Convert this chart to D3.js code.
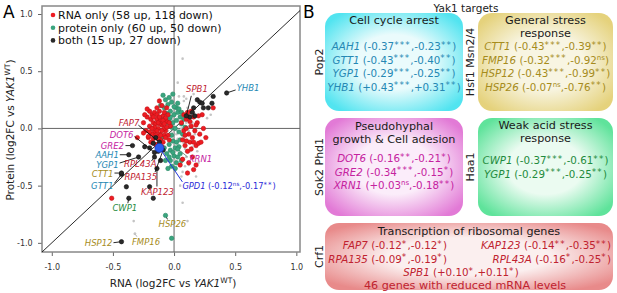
<!DOCTYPE html>
<html lang="en">
<head>
<meta charset="UTF-8">
<title>Yak1 targets</title>
<script src="https://d3js.org/d3.v7.min.js"></script>
<style>
  body { margin: 0; background: #fff; }
  svg { display: block; font-family: "DejaVu Sans", sans-serif; }
</style>
</head>
<body>
<svg width="617" height="293"></svg>
<script>
// ---- Panel A: [RNA log2FC, protein log2FC]
const grayPts = [
  [-0.12,0.10],[-0.08,0.05],[-0.05,-0.02],[-0.02,0.08],[0.00,0.02],[0.02,-0.05],[0.04,0.10],[0.06,0.00],
  [0.08,-0.08],[0.10,0.05],[0.12,-0.02],[0.03,-0.15],[-0.03,-0.12],[0.05,-0.22],[0.09,-0.18],[0.07,0.15],
  [0.02,0.20],[0.11,0.18],[0.13,0.12],[0.15,0.05],[0.14,-0.12],[0.01,-0.28],[0.06,-0.30],[-0.04,-0.20],
  [0.10,-0.25],[0.17,-0.05],[-0.10,-0.05],[-0.06,0.14],[0.04,0.28],[0.08,0.24],[0.18,0.10],[0.00,-0.36],
  [0.07,-0.38],[0.12,-0.32],[-0.02,0.25],[0.05,0.06],[0.03,-0.09],[-0.01,-0.04],[0.09,0.09],[0.11,-0.10],
  [0.07,0.61],[-0.33,-0.81],[0.07,-0.65],[0.11,-0.81],[0.16,0.30],[0.20,-0.30],[0.03,0.40],[0.18,-0.42],
  [0.05,-0.50],[0.27,0.09],[0.30,0.12],[0.12,0.02],[0.19,-0.20],[-0.32,-0.92],[0.08,0.28],[0.10,0.26],
  [0.06,-0.42],[0.09,-0.33],[0.13,-0.20],[0.15,-0.16],[0.01,-0.20],[0.08,-0.13],[-0.07,-0.09]
];
const redPts = [
  [-0.25,0.05],[-0.22,0.10],[-0.20,0.02],[-0.18,0.12],[-0.16,-0.03],[-0.14,0.08],[-0.12,0.15],[-0.10,0.03],
  [-0.08,-0.06],[-0.06,0.06],[-0.04,-0.10],[-0.21,-0.08],[-0.19,-0.12],[-0.15,-0.14],[-0.11,-0.10],[-0.09,0.11],
  [-0.13,0.00],[-0.17,0.05],[-0.23,-0.02],[-0.07,-0.02],[-0.05,0.12],[-0.14,0.18],[-0.10,0.20],[-0.06,0.18],
  [-0.12,-0.05],[-0.18,-0.05],[-0.08,0.14],[-0.16,0.14],[-0.20,0.15],[-0.03,0.02],[-0.11,0.07],[-0.15,0.04],
  [-0.19,0.08],[-0.24,0.12],[-0.09,-0.12],[-0.13,-0.09],[-0.07,0.09],[-0.05,-0.06],[-0.17,-0.09],[-0.10,-0.16],
  [-0.22,0.17],[-0.12,0.24],[-0.30,-0.08],[-0.25,-0.04],[-0.21,-0.07],[-0.51,-0.61],[-0.14,-0.02],[-0.08,0.00],
  [-0.16,0.01],[-0.12,0.04],[-0.10,-0.02],[-0.14,0.12],[-0.18,0.00],[-0.06,0.01],[-0.09,0.07],[-0.11,-0.06],
  [-0.15,-0.06],[-0.13,0.05],[-0.07,-0.08],[-0.04,0.05],[-0.20,-0.03],[-0.17,0.10],[-0.12,0.10],[-0.08,0.04],
  [0.06,0.05],[0.08,-0.02],[0.10,0.08],[0.12,-0.05],[0.14,0.02],[0.07,-0.10],[0.09,-0.15],[0.11,-0.20],
  [0.13,-0.12],[0.15,-0.08],[0.17,-0.02],[0.16,0.10],[0.19,0.05],[0.21,-0.05],[0.18,-0.15],[0.20,-0.13],
  [0.15,-0.25],[0.12,-0.30],[0.11,-0.39],[0.18,-0.32],[0.22,-0.12],[0.24,0.00],[0.14,0.15],[0.11,0.14],
  [0.08,0.12],[0.23,0.12],[0.32,0.18],[0.07,-0.27],[0.05,-0.32],[0.16,-0.36],[0.20,0.11],[0.26,-0.08],
  [0.10,0.00],[0.13,0.06],[0.16,-0.12],[0.09,-0.06],[0.14,-0.18],[0.12,0.10],[0.18,0.03],[0.10,-0.11]
];
const greenPts = [
  [-0.09,0.29],[-0.07,0.25],[-0.04,0.27],[-0.11,0.20],[-0.08,0.18],[-0.05,0.21],[-0.02,0.23],[0.02,0.18],
  [-0.06,0.13],[-0.03,0.15],[0.00,0.12],[0.03,0.14],[0.05,0.10],[-0.04,0.08],[-0.01,0.05],[0.02,0.07],
  [0.06,0.04],[0.09,0.01],[-0.05,0.05],[0.01,0.00],[0.04,-0.03],[-0.02,-0.06],[-0.01,-0.11],[0.02,-0.12],
  [-0.04,-0.14],[0.05,-0.10],[-0.03,-0.19],[0.01,-0.17],[0.04,-0.16],[-0.06,-0.22],[-0.03,-0.28],[0.00,-0.24],
  [0.05,-0.22],[-0.07,-0.28],[-0.05,-0.35],[-0.02,-0.33],[0.02,-0.30],[-0.08,-0.17],[0.07,-0.05],[0.08,0.08],
  [-0.09,0.10],[-0.10,-0.08],[0.03,0.22],[-0.01,0.30],[0.06,-0.28],[-0.02,-0.96],[0.00,0.19],[-0.03,0.10],
  [0.04,0.17],[-0.01,-0.21],[0.03,-0.25],[-0.04,-0.25],[0.01,-0.35],[0.06,0.14],[-0.02,0.01]
];
const blackPts = [
  [0.19,0.25],[0.21,0.23],[0.23,0.22],[0.28,0.18],[0.31,0.22],[0.32,0.28],[0.16,0.18],[0.15,0.14],
  [0.13,0.10],[0.17,0.11],[0.24,0.18],[-0.39,-0.51],[-0.20,-0.51],[-0.17,-0.61],[-0.24,-0.16],[-0.20,-0.17],
  [-0.17,-0.13],[-0.15,-0.08],[-0.13,-0.20],[-0.11,-0.28]
];

const legendItems = ["RNA only (58 up, 118 down)", "protein only (60 up, 50 down)", "both (15 up, 27 down)"];
const axisTicks = [-1.0, -0.5, 0.0, 0.5, 1.0];

// Yak1 target genes: name, RNA log2FC, RNA sig, protein log2FC, protein sig, group
const genes = [
  ["AAH1", -0.37, "***", -0.23, "**", "cycle"],
  ["GTT1", -0.43, "***", -0.40, "**", "cycle"],
  ["YGP1", -0.29, "***", -0.25, "**", "cycle"],
  ["YHB1", 0.43, "***", 0.31, "**", "cycle"],
  ["CTT1", -0.43, "***", -0.39, "**", "stress"],
  ["FMP16", -0.32, "***", -0.92, "ns", "stress"],
  ["HSP12", -0.43, "***", -0.99, "**", "stress"],
  ["HSP26", -0.07, "ns", -0.76, "**", "stress"],
  ["DOT6", -0.16, "**", -0.21, "*", "pseudo"],
  ["GRE2", -0.34, "***", -0.15, "*", "pseudo"],
  ["XRN1", 0.03, "ns", -0.18, "**", "pseudo"],
  ["CWP1", -0.37, "***", -0.61, "**", "acid"],
  ["FAP7", -0.12, "*", -0.12, "*", "ribo"],
  ["KAP123", -0.14, "**", -0.35, "**", "ribo"],
  ["RPA135", -0.09, "*", -0.19, "*", "ribo"],
  ["RPL43A", -0.16, "*", -0.25, "*", "ribo"],
  ["SPB1", 0.10, "*", 0.11, "*", "ribo"]
];
const gpd1 = ["GPD1", -0.12, "ns", -0.17, "**"];

const groupColor = {cycle: "#2588b4", stress: "#a68c1c", pseudo: "#c5229f", acid: "#1f8b3d", ribo: "#c0222f"};
const geneByName = Object.fromEntries(genes.map(g => [g[0], g]));

// label placement in panel A (offsets in px from the point): text dx, dy, anchor, leader end dx, dy
const labelPos = {
  AAH1: [-10, 0, "end", -9, 0], GTT1: [-8, 12, "end", -7, 9], YGP1: [-20, 8, "end", -19, 6],
  YHB1: [10, -5, "start", 9, -3], CTT1: [-8, 1, "end", -7, 0], FMP16: [-3, 8, "start", 2, 3],
  HSP12: [-9, 1.5, "end", -8, 1], HSP26: [-7, 8.5, "start", 2, 4], DOT6: [-21, -17, "end", -20, -16],
  GRE2: [-8.5, 0.5, "end", -7, 0], XRN1: [11, 10, "start", 10, 8], CWP1: [-4, 10, "middle", -1, 5],
  FAP7: [-20, -19, "end", -21, -17], RPA135: [-6, 27, "end", -8, 22], KAP123: [0.5, 23.5, "middle", 0, 18],
  RPL43A: [2, 7, "end", -3, 4], SPB1: [10.7, -27, "middle", 5, -20]
};

const svg = d3.select("svg");

// ---------- shared helper: "NAME (-0.37***,-0.23**)" ----------
function fmt(v) { return (v > 0 ? "+" : "-") + Math.abs(v).toFixed(2); }
function sig(t, s, fs) {
  const small = s === "ns";
  const sh = small ? fs * 0.38 : fs * 0.2;
  t.append("tspan").attr("dy", -sh).attr("font-size", small ? fs * 0.68 : fs * 0.85)
    .attr("letter-spacing", small ? 0 : fs * 0.12).text(s);
  return sh;
}
function geneParts(t, g, fs) {
  const [name, rna, rs, prot, ps] = g;
  t.append("tspan").attr("font-style", "italic").text(name);
  t.append("tspan").text(" (" + fmt(rna));
  let sh = sig(t, rs, fs);
  t.append("tspan").attr("dy", sh).text("," + fmt(prot));
  sh = sig(t, ps, fs);
  t.append("tspan").attr("dy", sh).text(")");
}

// ---------- Panel A ----------
const x = d3.scaleLinear().domain([-1.08, 1.03]).range([42, 300]);
const y = d3.scaleLinear().domain([-1.08, 1.07]).range([252, 6]);

svg.append("text").attr("x", 3).attr("y", 18).attr("font-size", 17).text("A");

const gx = svg.append("g").attr("transform", "translate(0,252)")
  .call(d3.axisBottom(x).tickValues(axisTicks).tickFormat(d => d.toFixed(1)).tickSize(4));
const gy = svg.append("g").attr("transform", "translate(42,0)")
  .call(d3.axisLeft(y).tickValues(axisTicks).tickFormat(d => d.toFixed(1)).tickSize(4));
[gx, gy].forEach(g => {
  g.select(".domain").remove();
  g.selectAll("line").attr("stroke", "#666");
  g.selectAll("text").attr("font-size", 8).attr("fill", "#333").attr("font-family", "DejaVu Sans");
});
gx.selectAll("text").attr("dy", "1.4em");
gy.selectAll("text").attr("dx", "-0.3em");

// frame and zero lines
svg.append("rect").attr("x", x(-1.08)).attr("y", y(1.07))
  .attr("width", x(1.03) - x(-1.08)).attr("height", y(-1.08) - y(1.07))
  .attr("fill", "none").attr("stroke", "#888").attr("stroke-width", 1.5);
svg.append("line").attr("x1", x(-1.08)).attr("x2", x(1.03)).attr("y1", y(0)).attr("y2", y(0))
  .attr("stroke", "#666").attr("stroke-width", 1);
svg.append("line").attr("x1", x(0)).attr("x2", x(0)).attr("y1", y(-1.08)).attr("y2", y(1.07))
  .attr("stroke", "#666").attr("stroke-width", 1);
svg.append("line").attr("x1", x(-1.08)).attr("y1", y(-1.08)).attr("x2", x(1.03)).attr("y2", y(1.03))
  .attr("stroke", "#111").attr("stroke-width", 0.9);

function dots(data, r, fill, stroke) {
  svg.append("g").selectAll("circle").data(data).join("circle")
    .attr("cx", d => x(d[0])).attr("cy", d => y(d[1])).attr("r", r)
    .attr("fill", fill).attr("stroke", stroke).attr("stroke-width", stroke === "none" ? 0 : 0.6);
}
dots(grayPts, 1.3, "#c4c4c4", "none");
dots(greenPts, 2.2, "#3aa57f", "#2a8a66");
dots(redPts, 2.2, "#ee1c22", "#c01015");
dots(blackPts, 2.2, "#2a2a2a", "#111");

// labelled genes
genes.forEach(g => {
  const [name, rna, rs, prot, ps, grp] = g;
  const p = labelPos[name];
  const px = x(rna), py = y(prot);
  const leaderCol = name === "FMP16" ? "#aaa" : (name === "XRN1" ? "#6a8a7a" : "#111");
  svg.append("line").attr("x1", px).attr("y1", py).attr("x2", px + p[3]).attr("y2", py + p[4])
    .attr("stroke", leaderCol).attr("stroke-width", 0.9);
  let fill = "#2a2a2a", stroke = "#111", r = 2.2;
  if (rs === "ns") { fill = "#3aa57f"; stroke = "#2a8a66"; }
  if (ps === "ns") { fill = "#c4c4c4"; stroke = "none"; r = 1.3; }
  svg.append("circle").attr("cx", px).attr("cy", py).attr("r", r)
    .attr("fill", fill).attr("stroke", stroke).attr("stroke-width", 0.6);
  svg.append("text").attr("x", px + p[0]).attr("y", py + p[1]).attr("dy", "0.35em")
    .attr("text-anchor", p[2]).attr("font-size", 8.5).attr("font-style", "italic")
    .attr("fill", groupColor[grp]).text(name);
});

// GPD1 highlighted
{
  const px = x(gpd1[1]), py = y(gpd1[3]);
  svg.append("line").attr("x1", px).attr("y1", py).attr("x2", px + 23).attr("y2", py + 34)
    .attr("stroke", "#2233dd").attr("stroke-width", 1);
  svg.append("circle").attr("cx", px).attr("cy", py).attr("r", 4.5)
    .attr("fill", "#2a5cf0").attr("stroke", "#1838b0").attr("stroke-width", 0.7);
  const t = svg.append("text").attr("x", px + 23).attr("y", py + 41).attr("font-size", 8.3).attr("fill", "#2a2ad8");
  geneParts(t, gpd1, 8.3);
}

// legend
const legendCols = ["#ee1c22", "#3aa57f", "#2a2a2a"];
legendItems.forEach((s, i) => {
  svg.append("circle").attr("cx", 53).attr("cy", 15 + i * 12.7).attr("r", 2.3).attr("fill", legendCols[i]);
  svg.append("text").attr("x", 58).attr("y", 15 + i * 12.7).attr("dy", "0.35em")
    .attr("font-size", 11).attr("fill", "#111").text(s);
});

// axis titles
function yakLabel(t, pre) {
  t.append("tspan").text(pre + " (log2FC vs ");
  t.append("tspan").attr("font-style", "italic").text("YAK1");
  t.append("tspan").attr("dy", -4).attr("font-size", 7.5).text("WT");
  t.append("tspan").attr("dy", 4).text(")");
}
yakLabel(svg.append("text").attr("x", 173).attr("y", 287).attr("text-anchor", "middle")
  .attr("font-size", 10.5).attr("fill", "#222"), "RNA");
yakLabel(svg.append("text").attr("transform", "translate(14,130) rotate(-90)").attr("text-anchor", "middle")
  .attr("font-size", 10.5).attr("fill", "#222"), "Protein");

// ---------- Panel B ----------
svg.append("text").attr("x", 303).attr("y", 18).attr("font-size", 17).text("B");
svg.append("text").attr("x", 466).attr("y", 12).attr("text-anchor", "middle").attr("font-size", 10.5)
  .attr("fill", "#222").text("Yak1 targets");

const boxes = [
  {id: "cyc", x: 325, y: 13, w: 138, h: 98, edge: "#52e4f0", core: "#eafbfc", tf: "Pop2", tfx: 319,
   title: ["Cell cycle arrest"], ty: 24, rows: [["AAH1"], ["GTT1"], ["YGP1"], ["YHB1"]], ry: 50, grp: "cycle"},
  {id: "str", x: 478, y: 13, w: 135, h: 98, edge: "#e5d27c", core: "#f8f5e2", tf: "Hsf1 Msn2/4", tfx: 470,
   title: ["General stress", "response"], ty: 24, rows: [["CTT1"], ["FMP16"], ["HSP12"], ["HSP26"]], ry: 50, grp: "stress"},
  {id: "pse", x: 325, y: 118, w: 138, h: 98, edge: "#e27ad6", core: "#fbedfa", tf: "Sok2 Phd1", tfx: 319,
   title: ["Pseudohyphal", "growth & Cell adesion"], ty: 130, rows: [["DOT6"], ["GRE2"], ["XRN1"]], ry: 162, grp: "pseudo"},
  {id: "aci", x: 478, y: 118, w: 135, h: 98, edge: "#5fe39b", core: "#ebfbf1", tf: "Haa1", tfx: 470,
   title: ["Weak acid stress", "response"], ty: 129, rows: [["CWP1"], ["YGP1"]], ry: 164, grp: "acid"},
  {id: "rib", x: 325, y: 223, w: 288, h: 67, edge: "#e88a8a", core: "#fbefef", tf: "Crf1", tfx: 319,
   title: ["Transcription of ribosomal genes"], ty: 235, rows: [["FAP7", "KAP123"], ["RPA135", "RPL43A"], ["SPB1"]], ry: 249, grp: "ribo"}
];
const riboNote = "46 genes with reduced mRNA levels";
const fsTitle = 11.2, fsGene = 10.3;

const defs = svg.append("defs");
boxes.forEach(b => {
  const gr = defs.append("radialGradient").attr("id", "g-" + b.id).attr("r", "62%");
  gr.append("stop").attr("offset", "0%").attr("stop-color", b.core);
  gr.append("stop").attr("offset", "45%").attr("stop-color", b.core);
  gr.append("stop").attr("offset", "100%").attr("stop-color", b.edge);
  svg.append("rect").attr("x", b.x).attr("y", b.y).attr("width", b.w).attr("height", b.h)
    .attr("rx", 14).attr("fill", `url(#g-${b.id})`);
  svg.append("text").attr("transform", `translate(${b.tfx},${b.y + b.h / 2}) rotate(-90)`)
    .attr("text-anchor", "middle").attr("dy", "0.35em").attr("font-size", 11).attr("fill", "#222").text(b.tf);
  const cx = b.x + b.w / 2;
  b.title.forEach((s, i) => {
    svg.append("text").attr("x", b.id === "rib" ? 469 : cx).attr("y", b.ty + i * 13)
      .attr("text-anchor", "middle").attr("font-size", fsTitle).attr("fill", "#1a1a1a").text(s);
  });
  b.rows.forEach((row, i) => {
    const yy = b.ry + i * 13.5;
    row.forEach((name, j) => {
      const g = geneByName[name];
      let xx = cx, anchor = "middle";
      if (row.length === 2) { xx = j === 0 ? 447 : 611; anchor = "end"; }
      if (b.id === "rib" && row.length === 1) xx = 461;
      const t = svg.append("text").attr("x", xx).attr("y", yy).attr("text-anchor", anchor)
        .attr("font-size", fsGene).attr("fill", groupColor[b.grp]);
      geneParts(t, g, fsGene);
    });
  });
  if (b.id === "rib") {
    svg.append("text").attr("x", 465).attr("y", b.ry + 3 * 13.2).attr("text-anchor", "middle")
      .attr("font-size", fsTitle).attr("fill", groupColor.ribo).text(riboNote);
  }
});
</script>
</body>
</html>
